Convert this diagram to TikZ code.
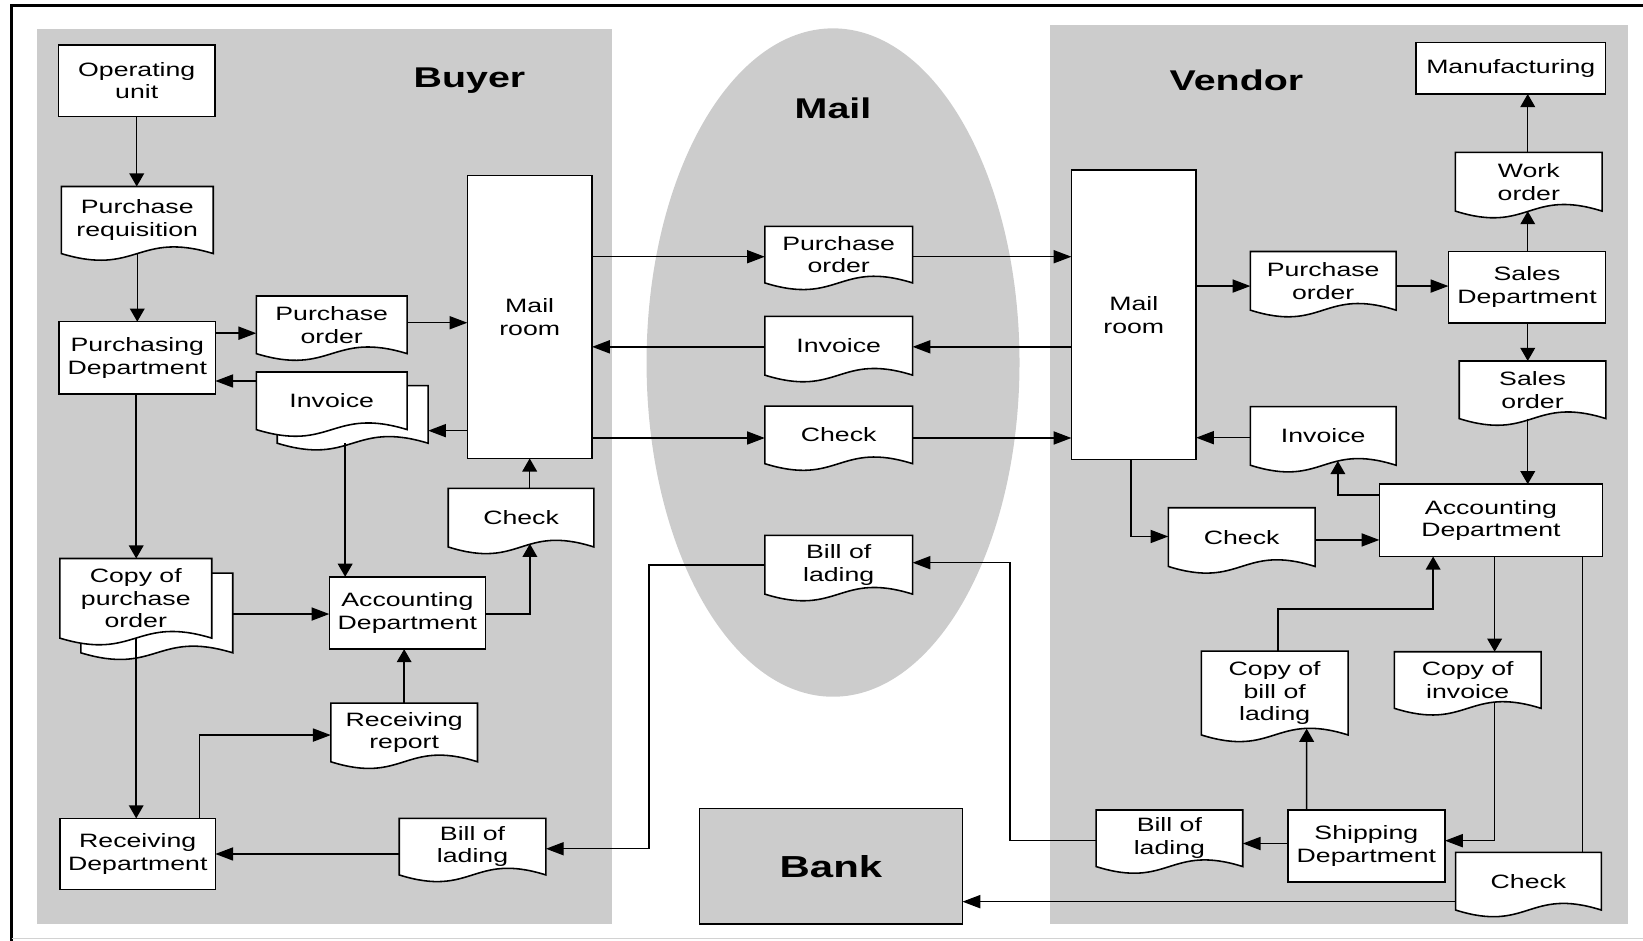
\documentclass[tikz,border=0pt]{standalone}
\usepackage{fontspec}
\newfontfamily\dfont{Liberation Sans}[FakeStretch=1.38]
\usetikzlibrary{calc,arrows.meta}
\pgfdeclarelayer{panel}
\pgfdeclarelayer{docs}
\pgfsetlayers{panel,docs,main}
\definecolor{panelgray}{RGB}{204,204,204}

% outline of a paper document: straight top, wavy bottom
\newcommand\docpath[1]{(#1.north west) -- (#1.north east) -- (#1.south east)
  .. controls ($(#1.south)+(0,-22)$) and ($(#1.south)+(0,22)$) .. (#1.south west) -- cycle}

\begin{document}
\begin{tikzpicture}[x=0.02cm,y=-0.02cm,
  every node/.append style={font=\dfont\fontsize{10.5}{12.3}\selectfont},
  box/.style={draw, fill=white, line width=0.85pt, inner sep=0pt, outer sep=0pt, align=center},
  docn/.style={inner sep=0pt, outer sep=0pt, align=center},
  sz/.style 2 args={minimum width=#1*0.02cm, minimum height=#2*0.02cm},
  docline/.style={draw, fill=white, line width=0.85pt, line join=miter},
  conn/.style={line width=0.8pt},
  harr/.style={conn, -{Triangle[length=0.34cm,width=0.25cm]}},
  varr/.style={conn, -{Triangle[length=0.25cm,width=0.28cm]}},
  head/.style={font=\dfont\bfseries\fontsize{15.5}{18}\selectfont}]

\useasboundingbox (0,0) rectangle (1568,898);

% ---------- frame and shaded regions ----------
\begin{pgfonlayer}{panel}
  \fill[panelgray] (35,28) rectangle (584,882);
  \fill[panelgray] (1002,24) rectangle (1554,882);
  \fill[panelgray] (795,346) ellipse [x radius=3.56cm, y radius=6.38cm];
  \draw[line width=1.6pt] (1568,5.7) -- (11,5.7) -- (11,898);
  \draw[gray!35, line width=0.6pt] (11,896) -- (1568,896);
\end{pgfonlayer}

\node[head] (buyerlbl) at (448,77) {Buyer};
\node[head] (vendorlbl) at (1180,77) {Vendor};
\node[head] (maillbl) at (795,103) {Mail};

% ---------- Buyer ----------
\node[box, sz={149}{68}] (opunit) at (130.5,77) {Operating\\unit};
\node[docn, sz={145}{64}] (preq) at (131,210) {Purchase\\requisition};
\node[box, sz={149}{69}] (purch) at (131,341.5) {Purchasing\\Department};
\node[docn, sz={144}{55}] (po1) at (316.6,310) {Purchase\\order};
\node[docn, sz={144}{55}] (invB) at (336.6,395.5) {};
\node[docn, sz={144}{55}] (inv1) at (316.6,382.5) {Invoice};
\node[box, sz={119}{270}] (mail1) at (505.5,302.5) {Mail\\room};
\node[docn, sz={139}{56}] (check1) at (497.3,494) {Check};
\node[docn, sz={145}{76}] (copypoB) at (149.6,585) {};
\node[docn, sz={145}{76}] (copypo) at (129.6,571) {Copy of\\purchase\\order};
\node[box, sz={149}{69}] (acct1) at (388.8,585) {Accounting\\Department};
\node[docn, sz={140}{56}] (recrep) at (385.7,699) {Receiving\\report};
\node[box, sz={148}{68}] (recdept) at (131.5,815) {Receiving\\Department};
\node[docn, sz={140}{54}] (bol1) at (451,808) {Bill of\\lading};

% ---------- Mail ----------
\node[docn, sz={141}{54}] (po2) at (800.4,243) {Purchase\\order};
\node[docn, sz={141}{56}] (inv2) at (800.4,330) {Invoice};
\node[docn, sz={141}{55}] (check2) at (800.4,415) {Check};
\node[docn, sz={141}{56}] (bol2) at (800.4,539) {Bill of\\lading};
\node[box, fill=panelgray, sz={251}{110}, font=\dfont\bfseries\fontsize{16.5}{19}\selectfont] (bank) at (793,826.7) {Bank};

% ---------- Vendor ----------
\node[box, sz={119}{276}] (mail2) at (1082,300.5) {Mail\\room};
\node[box, sz={181}{49}] (manuf) at (1441.8,65.2) {Manufacturing};
\node[docn, sz={140}{56}] (work) at (1459,173.5) {Work\\order};
\node[docn, sz={139}{56}] (po3) at (1262.8,268) {Purchase\\order};
\node[box, sz={150}{68}] (sales) at (1457.3,274) {Sales\\Department};
\node[docn, sz={140}{55}] (sorder) at (1462.6,372) {Sales\\order};
\node[docn, sz={139}{56}] (inv3) at (1262.8,416) {Invoice};
\node[box, sz={213}{69}] (acct2) at (1422.9,496.6) {Accounting\\Department};
\node[docn, sz={140}{56}] (check3) at (1185,512.6) {Check};
\node[docn, sz={140}{80}] (copybol) at (1216.5,661.4) {Copy of\\bill of\\lading};
\node[docn, sz={140}{54}] (copyinv) at (1400.7,649) {Copy of\\invoice};
\node[box, sz={150}{68.5}] (ship) at (1304,807.3) {Shipping\\Department};
\node[docn, sz={140}{54}] (bol3) at (1116,800) {Bill of\\lading};
\node[docn, sz={139}{55}] (check4) at (1458.7,841) {Check};

% document outlines, back copies first
\begin{pgfonlayer}{docs}
  \foreach \n in {preq,po1,invB,inv1,check1,copypoB,copypo,recrep,bol1,
                  po2,inv2,check2,bol2,
                  work,po3,sorder,inv3,check3,copybol,copyinv,bol3,check4}
    {\draw[docline] \docpath{\n};}
\end{pgfonlayer}

% ---------- Buyer flows ----------
\draw[varr] (opunit.south) -- (opunit.south |- preq.north);
\draw[varr] (preq.south) -- (preq.south |- purch.north);
\draw[harr] (purch.east |- 0,318) -- (po1.west |- 0,318);
\draw[harr] (po1.east |- 0,308) -- (mail1.west |- 0,308);
\draw[harr] (mail1.west |- 0,411) -- (invB.east |- 0,411);
\draw[harr] (inv1.west |- 0,363.6) -- (purch.east |- 0,363.6);
\draw[varr] (invB.south -| 329.4,0) -- (acct1.north -| 329.4,0);
\draw[varr] (purch.south -| 130,0) -- (copypo.north -| 130,0);
\draw[varr] (copypo.south -| 130,0) -- (recdept.north -| 130,0);
\draw[harr] (copypoB.east |- 0,586) -- (acct1.west |- 0,586);
\draw[varr] (acct1.east |- 0,586) -| ($(check1.south)+(8.4,-3)$);
\draw[varr] (check1.north -| mail1.south) -- (mail1.south);
\draw[harr] (recdept.north -| 190.6,0) |- (recrep.west |- 0,701.5);
\draw[varr] (recrep.north) -- (recrep.north |- acct1.south);
\draw[harr] (bol1.west |- recdept.east) -- (recdept.east);
\draw[harr] (bol2.west |- 0,539.4) -| (619.4,700) |- (bol1.east |- 0,810);

% ---------- Mail flows ----------
\draw[harr] (mail1.east |- 0,245) -- (po2.west |- 0,245);
\draw[harr] (po2.east |- 0,245) -- (mail2.west |- 0,245);
\draw[harr] (mail2.west |- 0,331) -- (inv2.east |- 0,331);
\draw[harr] (inv2.west |- 0,331) -- (mail1.east |- 0,331);
\draw[harr] (mail1.east |- 0,418) -- (check2.west |- 0,418);
\draw[harr] (check2.east |- 0,418) -- (mail2.west |- 0,418);
\draw[harr] (bol3.west |- 0,802) -| (964,700) |- (bol2.east |- 0,537);
\draw[harr] (check4.west |- 0,860.5) -- (bank.east |- 0,860.5);

% ---------- Vendor flows ----------
\draw[harr] (mail2.east |- 0,273) -- (po3.west |- 0,273);
\draw[harr] (po3.east |- 0,273) -- (sales.west |- 0,273);
\draw[varr] (sales.north -| 1458,0) -- (work.south -| 1458,0);
\draw[varr] (work.north -| 1458,0) -- (manuf.south -| 1458,0);
\draw[varr] (sales.south -| 1458,0) -- (sorder.north -| 1458,0);
\draw[varr] (sorder.south -| 1458,0) -- (acct2.north -| 1458,0);
\draw[varr] (acct2.west |- 0,472.4) -| ($(inv3.south)+(14,-4)$);
\draw[harr] (inv3.west |- 0,417.7) -- (mail2.east |- 0,417.7);
\draw[harr] (mail2.south -| 1079.5,0) |- (check3.west |- 0,512);
\draw[harr] (check3.east |- 0,515.3) -- (acct2.west |- 0,515.3);
\draw[varr] ($(copybol.north)+(3,0)$) |- (1367.7,581.2) -- (acct2.south -| 1367.7,0);
\draw[varr] (acct2.south -| 1426.4,0) -- (copyinv.north -| 1426.4,0);
\draw[harr] ($(copyinv.south)+(25.7,-5)$) |- (ship.east |- 0,802.3);
\draw[varr] (ship.north -| 1247,0) -- ($(copybol.south)+(30.5,-6)$);
\draw[harr] (ship.west |- 0,805) -- (bol3.east |- 0,805);
\draw[conn] (acct2.south -| 1510,0) -- (check4.north -| 1510,0);

\end{tikzpicture}
\end{document}
